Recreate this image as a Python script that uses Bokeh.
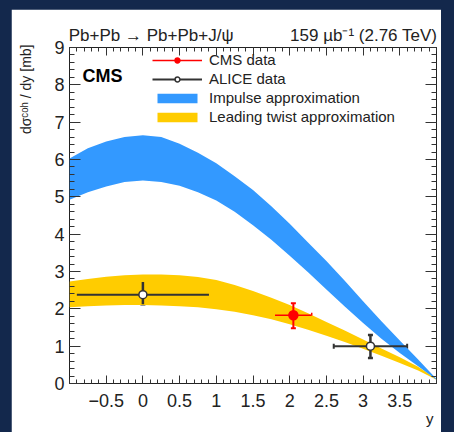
import numpy as np
from math import pi
from bokeh.plotting import figure
from bokeh.models import (Range1d, FixedTicker, LinearAxis, Label, Legend, LegendItem,
                          ColumnDataSource, Whisker, TeeHead, CustomJSTickFormatter)
from bokeh.embed import file_html
from bokeh.resources import INLINE

# ---------------- data ----------------
rap = [-1.0, -0.75, -0.5, -0.25, 0.0, 0.25, 0.5, 0.75, 1.0, 1.25, 1.5,
       1.75, 2.0, 2.25, 2.5, 2.75, 3.0, 3.25, 3.5, 3.75, 4.0]
# Impulse approximation band
ia_hi = [6.03, 6.30, 6.48, 6.60, 6.65, 6.60, 6.42, 6.18, 5.90, 5.55, 5.18,
         4.75, 4.28, 3.78, 3.28, 2.75, 2.20, 1.67, 1.15, 0.64, 0.12]
ia_lo = [4.92, 5.12, 5.28, 5.40, 5.44, 5.40, 5.30, 5.12, 4.90, 4.60, 4.24,
         3.85, 3.42, 2.98, 2.52, 2.06, 1.62, 1.20, 0.82, 0.46, 0.10]
# Leading twist approximation band
lt_hi = [2.73, 2.80, 2.86, 2.90, 2.92, 2.92, 2.90, 2.85, 2.77, 2.64, 2.48,
         2.30, 2.10, 1.88, 1.65, 1.42, 1.18, 0.94, 0.70, 0.45, 0.12]
lt_lo = [2.04, 2.07, 2.09, 2.10, 2.10, 2.09, 2.07, 2.04, 1.99, 1.92, 1.83,
         1.72, 1.59, 1.44, 1.28, 1.11, 0.93, 0.74, 0.55, 0.35, 0.10]

cms_y = [2.05]
cms_val = [1.83]
cms_xerr = [0.25]
cms_up = [0.32]
cms_dn = [0.35]

alice_y = [0.0, 3.1]
alice_val = [2.38, 1.00]
alice_xerr = [0.9, 0.5]
alice_up = [0.34, 0.30]
alice_dn = [0.26, 0.32]

x_ticks = [-0.5, 0, 0.5, 1, 1.5, 2, 2.5, 3, 3.5]
x_tick_labels = ["\u22120.5", "0", "0.5", "1", "1.5", "2", "2.5", "3", "3.5"]
y_ticks = [0, 1, 2, 3, 4, 5, 6, 7, 8, 9]
y_tick_labels = ["0", "1", "2", "3", "4", "5", "6", "7", "8", "9"]

NAVY = "#13284c"
BLUE = "#3399ff"
GOLD = "#ffcc00"
INK = "#222222"
FONT = "Liberation Sans"

# ---------------- figure ----------------
p = figure(width=430, height=423, x_range=Range1d(-1, 4), y_range=Range1d(0, 9),
           output_backend="svg", toolbar_location=None,
           min_border_left=58, min_border_right=5, min_border_top=34, min_border_bottom=49,
           background_fill_color="white", border_fill_color="white",
           outline_line_color=INK, outline_line_width=1, margin=(9, 0, 0, 11))
p.xgrid.visible = False
p.ygrid.visible = False

x_minor = list(np.round(np.arange(-1.0, 4.0001, 0.1), 2))
y_minor = list(np.round(np.arange(0.0, 9.0001, 0.2), 2))
xticker = FixedTicker(ticks=x_ticks, minor_ticks=x_minor)
yticker = FixedTicker(ticks=y_ticks, minor_ticks=y_minor)


def style_axis(ax, major_in, minor_in):
    ax.major_tick_in = major_in
    ax.major_tick_out = 0
    ax.minor_tick_in = minor_in
    ax.minor_tick_out = 0
    ax.axis_line_color = None
    ax.major_tick_line_color = "#333333"
    ax.minor_tick_line_color = "#333333"
    ax.major_label_text_font = FONT
    ax.major_label_text_font_size = "18px"
    ax.major_label_text_color = INK


xa = p.xaxis[0]
xa.ticker = xticker
xa.major_label_overrides = dict(zip(x_ticks, x_tick_labels))
style_axis(xa, 8, 4)
xa.major_label_standoff = 10

ya = p.yaxis[0]
ya.ticker = yticker
ya.major_label_overrides = dict(zip(y_ticks, y_tick_labels))
style_axis(ya, 11, 5)
ya.major_label_standoff = 5

top = LinearAxis(ticker=xticker, formatter=CustomJSTickFormatter(code="return ''"),
                 major_label_standoff=0)
style_axis(top, 8, 4)
p.add_layout(top, "above")
right = LinearAxis(ticker=yticker, formatter=CustomJSTickFormatter(code="return ''"),
                   major_label_standoff=0)
style_axis(right, 11, 5)
p.add_layout(right, "right")

# ---------------- bands ----------------
lt_r = p.varea(x=rap, y1=lt_lo, y2=lt_hi, fill_color=GOLD)
ia_r = p.varea(x=rap, y1=ia_lo, y2=ia_hi, fill_color=BLUE)


# ---------------- data points ----------------
def points(xs, vals, xerr, up, dn, color, lw, fill, size):
    xs = np.array(xs); vals = np.array(vals)
    xerr = np.array(xerr); up = np.array(up); dn = np.array(dn)
    src = ColumnDataSource(dict(x=xs, v=vals, xlo=xs - xerr, xhi=xs + xerr,
                                vlo=vals - dn, vhi=vals + up))
    xb = p.segment(x0="xlo", y0="v", x1="xhi", y1="v", source=src,
                   line_color=color, line_width=lw)
    p.segment(x0="x", y0="vlo", x1="x", y1="vhi", source=src,
              line_color=color, line_width=lw + 0.5)
    p.add_layout(Whisker(source=src, base="v", lower="xlo", upper="xhi", dimension="width",
                         line_alpha=0,
                         lower_head=TeeHead(size=5, line_color=color, line_width=lw),
                         upper_head=TeeHead(size=5, line_color=color, line_width=lw)))
    p.add_layout(Whisker(source=src, base="x", lower="vlo", upper="vhi", dimension="height",
                         line_alpha=0,
                         lower_head=TeeHead(size=5, line_color=color, line_width=lw + 0.5),
                         upper_head=TeeHead(size=5, line_color=color, line_width=lw + 0.5)))
    pt = p.scatter(x="x", y="v", source=src, marker="circle", size=size,
                   fill_color=fill, line_color=color, line_width=1.5)
    return xb, pt


al_bar, al_pt = points(alice_y, alice_val, alice_xerr, alice_up, alice_dn,
                       "#333333", 2, "white", 8)
cms_bar, cms_pt = points(cms_y, cms_val, cms_xerr, cms_up, cms_dn,
                         "#ff0000", 1.5, "#ff0000", 9)

# ---------------- legend ----------------
legend = Legend(items=[
    LegendItem(label="CMS data", renderers=[cms_bar, cms_pt]),
    LegendItem(label="ALICE data", renderers=[al_bar, al_pt]),
    LegendItem(label="Impulse approximation", renderers=[ia_r]),
    LegendItem(label="Leading twist approximation", renderers=[lt_r]),
], location=(83, 257), glyph_width=50, glyph_height=12, label_standoff=7,
    label_height=19, spacing=0, padding=0, margin=0,
    background_fill_alpha=0, border_line_color=None,
    label_text_font=FONT, label_text_font_size="15px", label_text_color=INK)
p.add_layout(legend)

# ---------------- texts (in side panels so that they are not clipped) ----------------
p.add_layout(Label(x=-1.01, y=9.318, text="Pb+Pb \u2192 Pb+Pb+J/\u03c8", text_font=FONT,
                   text_font_size="17px", text_color=INK, text_align="left",
                   text_baseline="middle"), "above")
p.add_layout(Label(x=4.01, y=9.318, text="159 \u00b5b\u207b\u00b9 (2.76 TeV)", text_font=FONT,
                   text_font_size="17px", text_color=INK, text_align="right",
                   text_baseline="middle"), "above")
p.add_layout(Label(x=-0.823, y=8.24, text="CMS", text_font=FONT, text_font_style="bold",
                   text_font_size="18px", text_color="black", text_align="left",
                   text_baseline="middle"))
p.add_layout(Label(x=-1.599, y=9.08, text="d\u03c3\u1d9c\u1d52\u02b0 / dy [mb]", text_font=FONT,
                   text_font_size="14px", text_color=INK, angle=pi / 2, text_align="right",
                   text_baseline="middle"), "left")
p.add_layout(Label(x=3.96, y=-0.94, text="y", text_font=FONT, text_font_size="15px",
                   text_color=INK, text_align="right", text_baseline="middle"), "below")

html = file_html(p, INLINE, title="CMS coherent J/psi")
html = html.replace("</head>", "<style>html,body{background-color:%s;}</style></head>" % NAVY, 1)
open("out.html", "w").write(html)
